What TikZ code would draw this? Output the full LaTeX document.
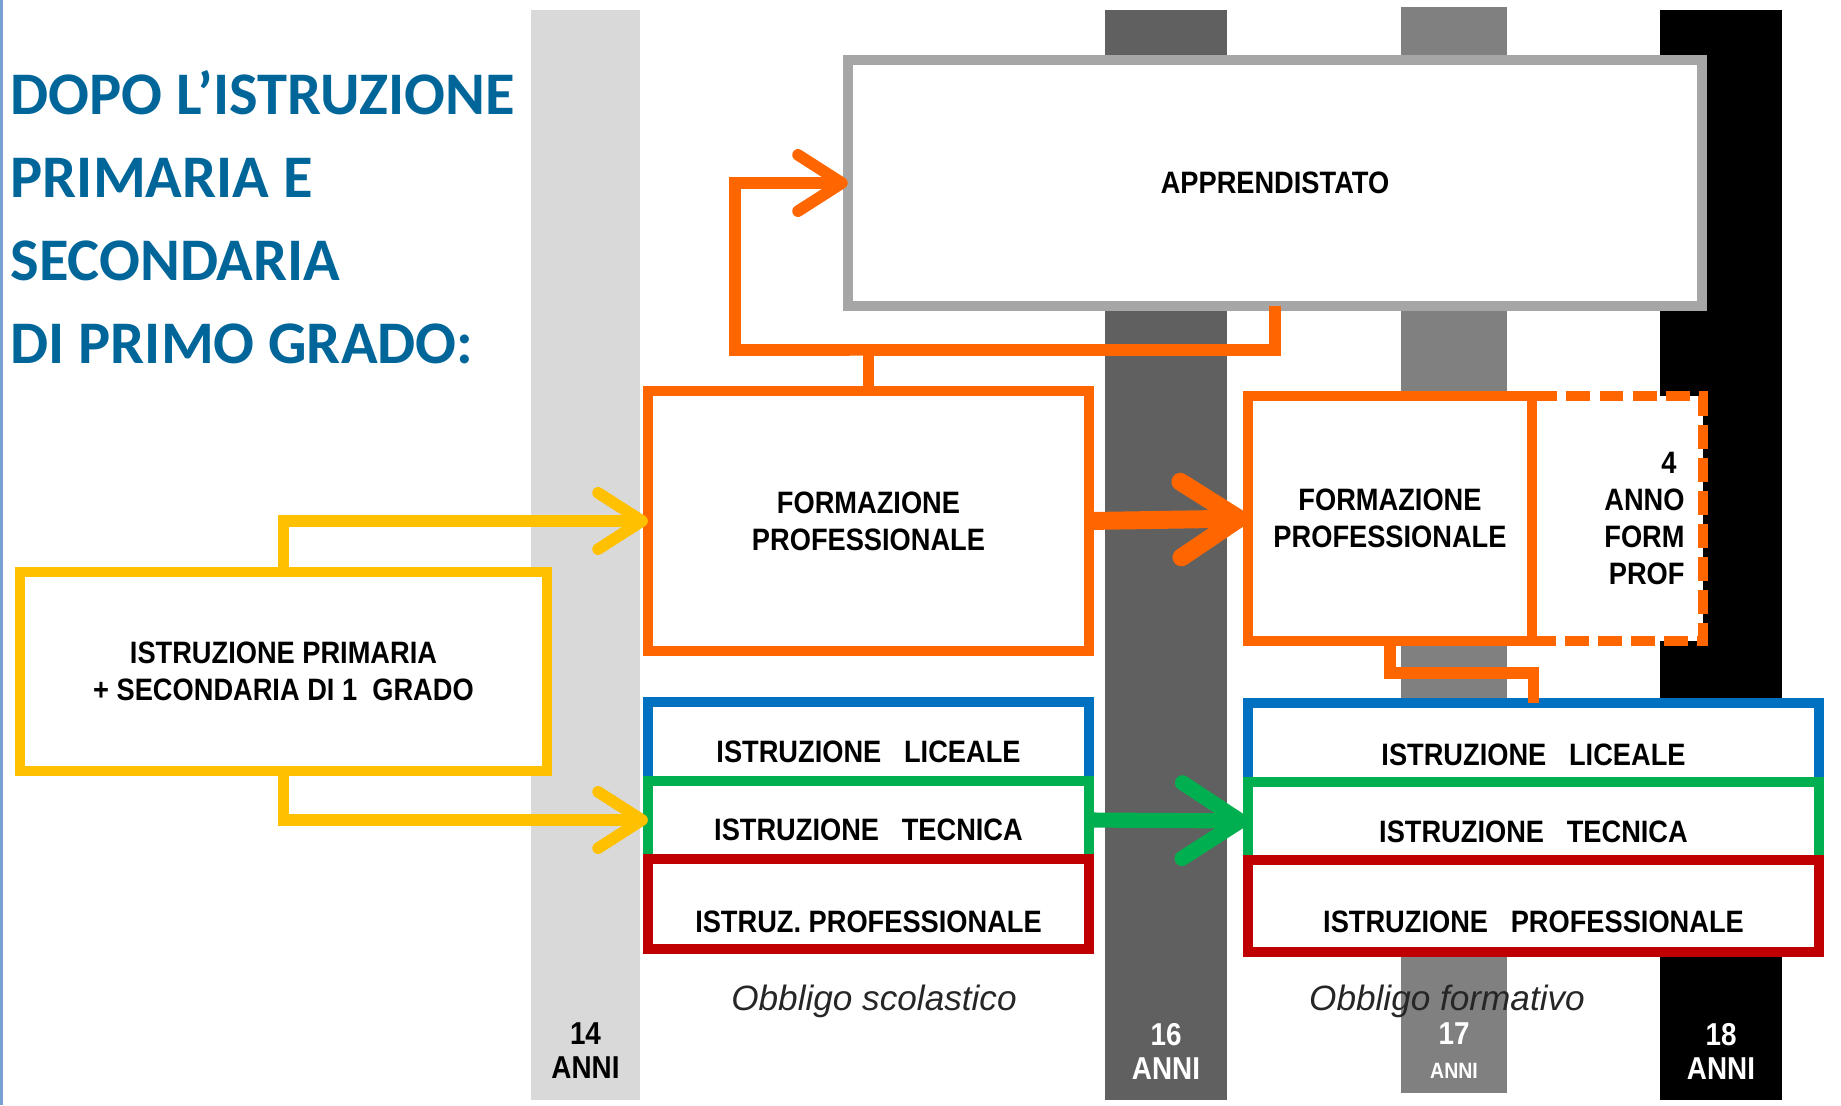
\documentclass[tikz,border=0pt]{standalone}
\usepackage{fontspec}
\setmainfont{Liberation Sans}
\newfontfamily\narrowfont[FakeStretch=0.88]{Liberation Sans}
\newfontfamily\titlefont{Carlito}
\usetikzlibrary{calc}
\usetikzlibrary{arrows.meta}

\definecolor{titleblue}{RGB}{0,102,153}
\definecolor{sideblue}{RGB}{120,160,210}
\definecolor{orangeline}{RGB}{255,102,0}
\definecolor{yellowline}{RGB}{255,192,0}
\definecolor{blueline}{RGB}{0,112,192}
\definecolor{greenline}{RGB}{0,176,80}
\definecolor{redline}{RGB}{192,0,0}
\definecolor{appgrey}{RGB}{166,166,166}
\definecolor{bar14}{RGB}{217,217,217}
\definecolor{bar16}{RGB}{96,96,96}
\definecolor{bar17}{RGB}{128,128,128}

\begin{document}
\begin{tikzpicture} [x=0.01cm, y=-0.01cm,
  box/.style={draw, fill=white, line width=2.9pt, outer sep=0pt, inner sep=0pt, align=center,
    font=\narrowfont\bfseries\fontsize{8.8pt}{10.5pt}\selectfont},
  low/.style={text height=#1, text depth=0pt},
  link/.style={line width=3.3pt},
  barb/.style={-{Straight Barb[length=12.5pt, width=16pt, round]}},
  bigbarb/.style={-{Straight Barb[length=16.5pt, width=21.5pt, round]}},
  age/.style={align=center, inner sep=0pt, font=\narrowfont\bfseries\fontsize{9pt}{9.7pt}\selectfont},
  duty/.style={inner sep=0pt, text=black!85, font=\itshape\fontsize{10pt}{12pt}\selectfont}]
\fill[white] (0,0) rectangle (1841,1105);
\useasboundingbox (0,0) rectangle (1841,1105);
\draw[sideblue, line width=0.85pt] (1.5,0) -- (1.5,1105);

\foreach \l/\r/\t/\b/\c/\tc/\n/\s in {531/640/10/1100/bar14/black/14/9pt, 1105/1227/10/1100/bar16/white/16/9pt,
    1401/1507/7/1093/bar17/white/17/6.3pt, 1660/1782/10/1100/black/white/18/9pt} {
  \fill[\c] (\l,\t) rectangle (\r,\b);
  \node[age, text=\tc] (age\n) at ({(\l+\r)/2},1051) {\n\\{\fontsize{\s}{\s}\selectfont ANNI}};
}

\node[anchor=north west, inner sep=0pt, align=left, text=titleblue,
  font=\titlefont\bfseries\fontsize{17.2pt}{23.6pt}\selectfont] (title) at (10,70)
  {DOPO L’ISTRUZIONE\\PRIMARIA E\\SECONDARIA\\DI PRIMO GRADO:};

\node[box, draw=appgrey, minimum width=8.54cm, minimum height=2.46cm] (app) at (1275,183) {APPRENDISTATO};
\node[box, draw=orangeline, minimum width=4.41cm, minimum height=2.6cm] (fpA) at (868.5,521) {FORMAZIONE\\PROFESSIONALE};
\node[box, draw=orangeline, dash pattern=on 6.8pt off 2.6pt, minimum width=1.71cm, minimum height=2.45cm,
  text width=1.34cm, align=right] (anno) at (1617.5,518.5) {4\rule{2.3pt}{0pt}\\ANNO\\FORM\\PROF};
\node[box, draw=orangeline, minimum width=2.84cm, minimum height=2.45cm] (fpB) at (1390,518.5) {FORMAZIONE\\PROFESSIONALE};
\node[box, draw=yellowline, minimum width=5.27cm, minimum height=1.99cm] (prim) at (283.5,671.5)
  {ISTRUZIONE PRIMARIA\\+ SECONDARIA DI 1~~GRADO};

\node[box, draw=blueline, minimum width=4.41cm, minimum height=0.79cm, low=11.7pt] (licA) at (868.5,741.5) {ISTRUZIONE~~~LICEALE};
\node[box, draw=greenline, minimum width=4.41cm, minimum height=0.78cm, low=11.7pt] (tecA) at (868.5,820) {ISTRUZIONE~~~TECNICA};
\node[box, draw=redline, minimum width=4.41cm, minimum height=0.9cm, low=16.2pt] (proA) at (868.5,904) {ISTRUZ. PROFESSIONALE};
\node[box, draw=blueline, minimum width=5.71cm, minimum height=0.79cm, low=12.8pt] (licB) at (1533.5,742.5) {ISTRUZIONE~~~LICEALE};
\node[box, draw=greenline, minimum width=5.71cm, minimum height=0.78cm, low=12.2pt] (tecB) at (1533.5,821) {ISTRUZIONE~~~TECNICA};
\node[box, draw=redline, minimum width=5.71cm, minimum height=0.915cm, low=15.1pt] (proB) at (1533.5,906) {ISTRUZIONE~~~PROFESSIONALE};

\coordinate (jn) at ($(fpA.north)+(0,-41)$);
\coordinate (bend) at (735,350);
\draw[link, orangeline] (fpA.north) -- (jn) -| (app.south);
\draw[link, orangeline, barb] (jn) -- (bend) |- (app.west);
\draw[link, yellowline, barb] (prim.north) |- (fpA.west);
\draw[link, yellowline, barb] (prim.south) |- (tecA.west);
\draw[orangeline, line width=5.1pt, bigbarb] (fpA.east) -- (fpB.west);
\draw[greenline, line width=4.3pt, bigbarb] (tecA.east) -- (tecB.west);
\draw[link, orangeline] (fpB.south) -- ++(0,32) -| (licB.north);

\node[duty, anchor=base] (dutyA) at (874,1010) {Obbligo scolastico};
\node[duty, anchor=base] (dutyB) at (1447,1010) {Obbligo formativo};
\end{tikzpicture}
\end{document}
